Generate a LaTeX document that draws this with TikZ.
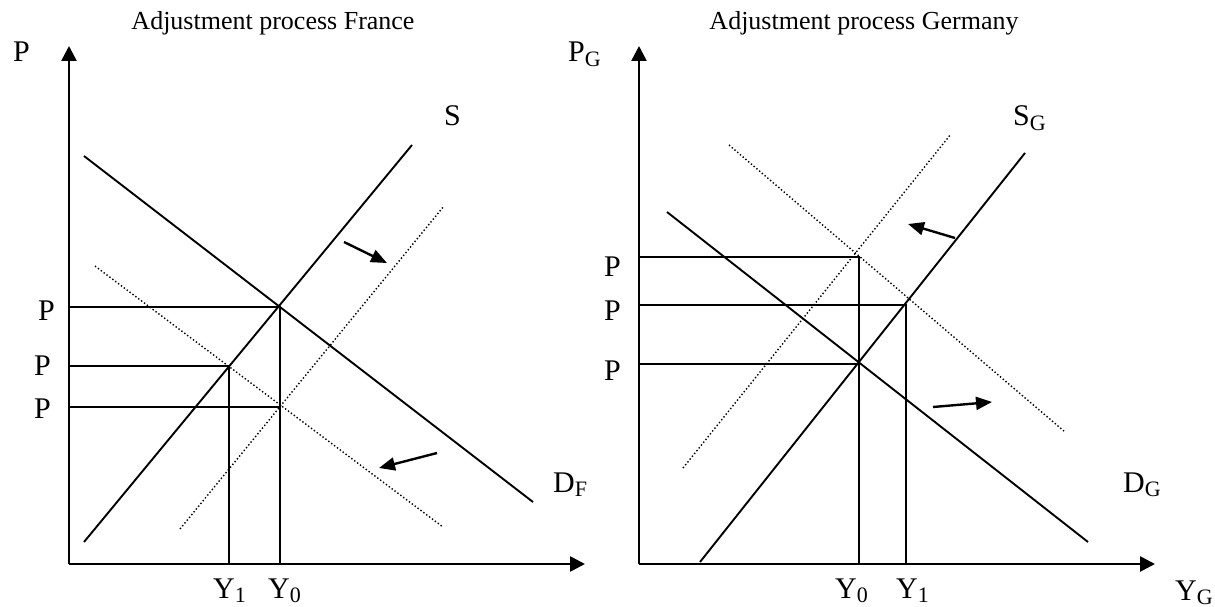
\documentclass[tikz,border=0pt]{standalone}
\usepackage{fontspec}
\setmainfont{Liberation Serif}
\usetikzlibrary{arrows.meta}
\newcommand\sbs[1]{\raisebox{-4.5pt}{\fontsize{22}{22}\selectfont #1}}
\begin{document}
\begin{tikzpicture}[x=1pt,y=-1pt,
  axis/.style={line width=2.6pt,-{Triangle[length=15pt,width=15pt]}},
  curve/.style={line width=1.9pt},
  shifted/.style={line width=1.4pt,dash pattern=on 1.4pt off 2.2pt},
  guide/.style={line width=1.9pt},
  shiftarrow/.style={line width=2.4pt,-{Triangle[length=16pt,width=13pt]}},
  lbl/.style={font=\fontsize{30}{30}\selectfont,inner sep=0pt,anchor=base west},
  ttl/.style={font=\fontsize{26}{26}\selectfont,inner sep=0pt,anchor=base}]
\useasboundingbox (0,0) rectangle (1215,607);

% ---------------- France ----------------
\node[ttl] (t1) at (273,30) {Adjustment process France};
\coordinate (O1) at (69,564);
\coordinate (Ytip1) at (69,46);
\coordinate (Xtip1) at (585,564);
\coordinate (S1a) at (84,542);
\coordinate (S1b) at (412,145);
\coordinate (D1a) at (84,156);
\coordinate (D1b) at (533,502);
\coordinate (Dp1a) at (95,266);
\coordinate (Dp1b) at (443,527);
\coordinate (Sp1a) at (180,529);
\coordinate (Sp1b) at (444,206);
\coordinate (E0) at (280,307);
\coordinate (E1) at (229,366);
\coordinate (E2) at (280,407);
\coordinate (a1s) at (344,242);
\coordinate (a1e) at (387,263);
\coordinate (a2s) at (437,453);
\coordinate (a2e) at (379,468);

\draw[guide] (E0 -| O1) -- (E0) -- (E0 |- O1);
\draw[guide] (E1 -| O1) -- (E1) -- (E1 |- O1);
\draw[guide] (E2 -| O1) -- (E2);
\draw[curve] (S1a) -- (S1b);
\draw[curve] (D1a) -- (D1b);
\draw[shifted] (Dp1a) -- (Dp1b);
\draw[shifted] (Sp1a) -- (Sp1b);
\draw[shiftarrow] (a1s) -- (a1e);
\draw[shiftarrow] (a2s) -- (a2e);
\draw[axis] (O1) -- (Ytip1);
\draw[axis] (O1) -- (Xtip1);

\node[lbl] (pF) at (13,62) {P};
\node[lbl] (pF0) at (38,320) {P};
\node[lbl] (pF1) at (34,375) {P};
\node[lbl] (pF2) at (34,418) {P};
\node[lbl] (sF) at (444,125) {S};
\node[lbl] (dF) at (553,492) {D\sbs{F}};
\node[lbl] (yF1) at (213,598) {Y\sbs{1}};
\node[lbl] (yF0) at (268,598) {Y\sbs{0}};

% ---------------- Germany ----------------
\node[ttl] (t2) at (864,30) {Adjustment process Germany};
\coordinate (O2) at (639,564);
\coordinate (Ytip2) at (639,46);
\coordinate (Xtip2) at (1155,564);
\coordinate (S2a) at (700,562);
\coordinate (S2b) at (1025,153);
\coordinate (D2a) at (667,212);
\coordinate (D2b) at (1088,542);
\coordinate (Sp2a) at (683,468);
\coordinate (Sp2b) at (951,134);
\coordinate (Dp2a) at (729,145);
\coordinate (Dp2b) at (1065,432);
\coordinate (A2) at (859,257);
\coordinate (A1) at (906,305);
\coordinate (A0) at (859,364);
\coordinate (a3s) at (955,238);
\coordinate (a3e) at (908,224);
\coordinate (a4s) at (933,407);
\coordinate (a4e) at (992,402);

\draw[guide] (A2 -| O2) -- (A2) -- (A2 |- O2);
\draw[guide] (A1 -| O2) -- (A1) -- (A1 |- O2);
\draw[guide] (A0 -| O2) -- (A0);
\draw[curve] (S2a) -- (S2b);
\draw[curve] (D2a) -- (D2b);
\draw[shifted] (Sp2a) -- (Sp2b);
\draw[shifted] (Dp2a) -- (Dp2b);
\draw[shiftarrow] (a3s) -- (a3e);
\draw[shiftarrow] (a4s) -- (a4e);
\draw[axis] (O2) -- (Ytip2);
\draw[axis] (O2) -- (Xtip2);

\node[lbl] (pG) at (568,62) {P\sbs{G}};
\node[lbl] (pG2) at (604,276) {P};
\node[lbl] (pG1) at (604,320) {P};
\node[lbl] (pG0) at (604,380) {P};
\node[lbl] (sG) at (1013,126) {S\sbs{G}};
\node[lbl] (dG) at (1123,492) {D\sbs{G}};
\node[lbl] (yG0) at (835,598) {Y\sbs{0}};
\node[lbl] (yG1) at (896,598) {Y\sbs{1}};
\node[lbl] (yG) at (1175,600) {Y\sbs{G}};
\end{tikzpicture}
\end{document}
